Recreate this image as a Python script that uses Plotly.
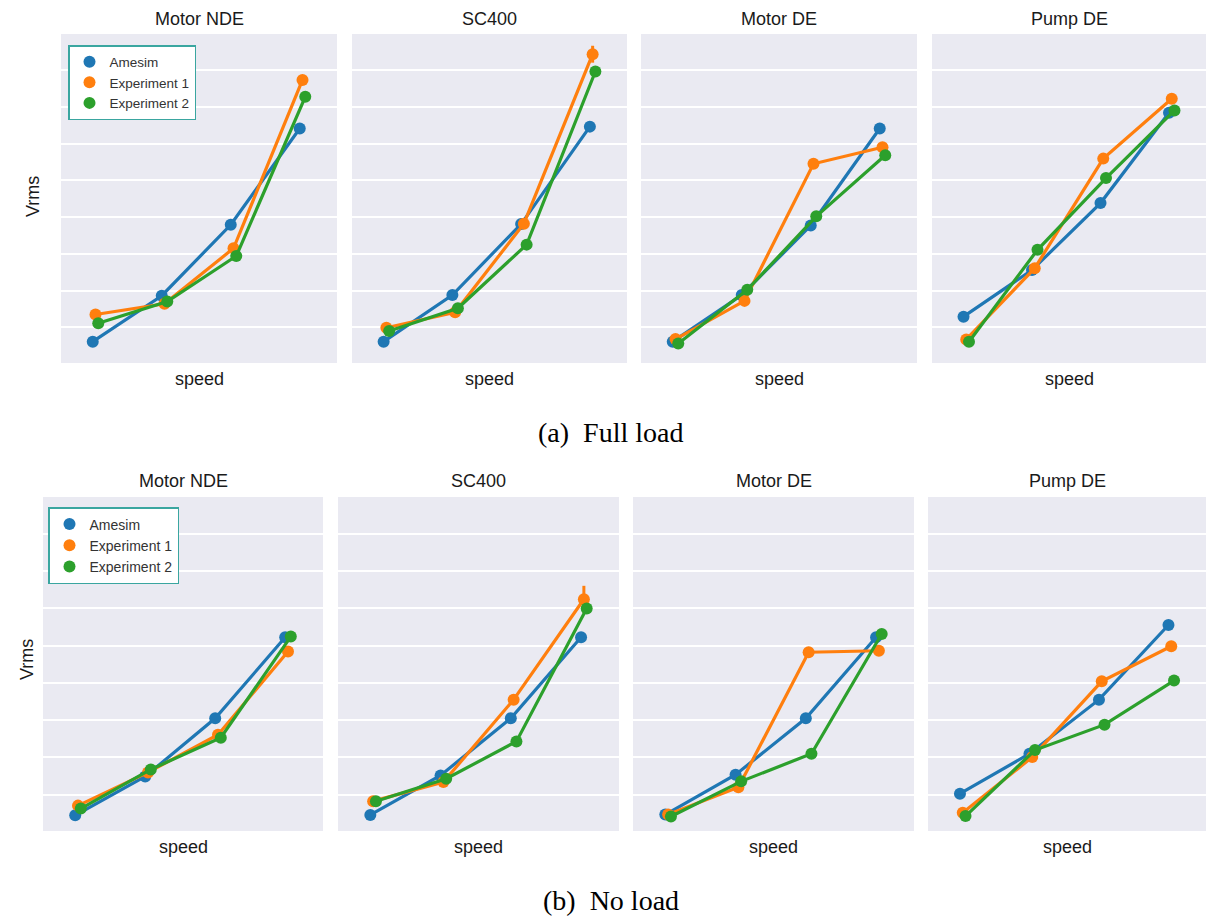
import plotly.graph_objects as go
import numpy as np

# ---------------- data (arbitrary Vrms units) ----------------
speed_idx = [0, 1, 2, 3]
sensors = ["Motor NDE", "SC400", "Motor DE", "Pump DE"]
series = ["Amesim", "Experiment 1", "Experiment 2"]

# (a) Full load
fl_motor_nde_amesim = [0.61, 1.86, 3.79, 6.41]
fl_motor_nde_exp1 = [1.35, 1.64, 3.15, 7.73]
fl_motor_nde_exp2 = [1.11, 1.70, 2.94, 7.27]

fl_sc400_amesim = [0.61, 1.88, 3.81, 6.46]
fl_sc400_exp1 = [0.99, 1.41, 3.82, 8.43]
fl_sc400_exp2 = [0.90, 1.52, 3.25, 7.96]
fl_sc400_exp1_err = [0, 0, 0, 0.23]

fl_motor_de_amesim = [0.61, 1.88, 3.77, 6.41]
fl_motor_de_exp1 = [0.68, 1.72, 5.45, 5.90]
fl_motor_de_exp2 = [0.56, 2.02, 4.02, 5.68]

fl_pump_de_amesim = [1.29, 2.56, 4.38, 6.84]
fl_pump_de_exp1 = [0.67, 2.61, 5.59, 7.22]
fl_pump_de_exp2 = [0.61, 3.11, 5.06, 6.90]

# (b) No load
nl_motor_nde_amesim = [0.45, 1.49, 3.05, 5.22]
nl_motor_nde_exp1 = [0.71, 1.60, 2.61, 4.84]
nl_motor_nde_exp2 = [0.63, 1.68, 2.53, 5.24]

nl_sc400_amesim = [0.46, 1.52, 3.05, 5.22]
nl_sc400_exp1 = [0.83, 1.34, 3.55, 6.24]
nl_sc400_exp2 = [0.83, 1.43, 2.43, 5.99]
nl_sc400_exp1_err = [0, 0, 0, 0.36]

nl_motor_de_amesim = [0.47, 1.54, 3.05, 5.22]
nl_motor_de_exp1 = [0.47, 1.20, 4.82, 4.86]
nl_motor_de_exp2 = [0.42, 1.36, 2.10, 5.31]

nl_pump_de_amesim = [1.03, 2.10, 3.55, 5.55]
nl_pump_de_exp1 = [0.52, 2.01, 4.04, 4.98]
nl_pump_de_exp2 = [0.43, 2.20, 2.88, 4.06]

zero_err = [0, 0, 0, 0]

full_load = [
    [fl_motor_nde_amesim, fl_motor_nde_exp1, fl_motor_nde_exp2],
    [fl_sc400_amesim, fl_sc400_exp1, fl_sc400_exp2],
    [fl_motor_de_amesim, fl_motor_de_exp1, fl_motor_de_exp2],
    [fl_pump_de_amesim, fl_pump_de_exp1, fl_pump_de_exp2],
]
full_err = [
    [zero_err, zero_err, zero_err],
    [zero_err, fl_sc400_exp1_err, zero_err],
    [zero_err, zero_err, zero_err],
    [zero_err, zero_err, zero_err],
]
no_load = [
    [nl_motor_nde_amesim, nl_motor_nde_exp1, nl_motor_nde_exp2],
    [nl_sc400_amesim, nl_sc400_exp1, nl_sc400_exp2],
    [nl_motor_de_amesim, nl_motor_de_exp1, nl_motor_de_exp2],
    [nl_pump_de_amesim, nl_pump_de_exp1, nl_pump_de_exp2],
]
no_err = [
    [zero_err, zero_err, zero_err],
    [zero_err, nl_sc400_exp1_err, zero_err],
    [zero_err, zero_err, zero_err],
    [zero_err, zero_err, zero_err],
]

# ---------------- style ----------------
colors = ["#1f77b4", "#ff7f0e", "#2ca02c"]
dodge = [-0.04, 0.0, 0.04]
W, H = 1208, 918
BG = "#EAEAF2"
SANS = "Liberation Sans, Arial, sans-serif"
SERIF = "Liberation Serif, Times New Roman, serif"

rows = [
    dict(data=full_load, err=full_err,
         xs=[(61, 337), (352, 627), (641, 917), (932, 1206)], ys=(34, 363),
         title_y=19, xlabel_y=379, ylabel=(33, 197), caption="(a)  Full load", cap_y=432,
         legend="legend", leg_pos=(68, 45), leg_font=13.5),
    dict(data=no_load, err=no_err,
         xs=[(43, 323), (338, 619), (633, 914), (928, 1206)], ys=(497, 831),
         title_y=481, xlabel_y=847, ylabel=(27, 660), caption="(b)  No load", cap_y=900,
         legend="legend2", leg_pos=(48, 507), leg_font=14),
]

fig = go.Figure()
layout = dict(width=W, height=H, margin=dict(l=0, r=0, t=0, b=0),
              paper_bgcolor="white", plot_bgcolor=BG, showlegend=True)
annotations = []

def px(x):
    return x / W

def py(y):
    return 1 - y / H

k = 0
for r, row in enumerate(rows):
    for c in range(4):
        k += 1
        xa = "xaxis" if k == 1 else f"xaxis{k}"
        ya = "yaxis" if k == 1 else f"yaxis{k}"
        xref = "x" if k == 1 else f"x{k}"
        yref = "y" if k == 1 else f"y{k}"
        x0, x1 = row["xs"][c]
        y0, y1 = row["ys"]
        layout[xa] = dict(domain=[px(x0), px(x1)], range=[-0.5, 3.5], anchor=yref,
                          showgrid=False, zeroline=False, showticklabels=False,
                          showline=False, ticks="", fixedrange=True)
        layout[ya] = dict(domain=[py(y1), py(y0)], range=[0.03, 8.98], anchor=xref,
                          showgrid=True, gridcolor="white", gridwidth=1.6,
                          tick0=0, dtick=1, zeroline=False, showticklabels=False,
                          showline=False, ticks="", fixedrange=True)
        for s in range(3):
            xvals = np.array(speed_idx) + dodge[s]
            yvals = row["data"][c][s]
            errs = row["err"][c][s]
            fig.add_trace(go.Scatter(
                x=xvals, y=yvals, mode="lines+markers", xaxis=xref, yaxis=yref,
                line=dict(color=colors[s], width=3.2),
                marker=dict(color=colors[s], size=12),
                error_y=dict(type="data", array=errs, visible=True, color=colors[s],
                             thickness=3, width=0),
                showlegend=False, hoverinfo="skip"))
        # titles
        annotations.append(dict(text=sensors[c], x=px((x0 + x1) / 2), y=py(row["title_y"]),
                                xref="paper", yref="paper", showarrow=False,
                                xanchor="center", yanchor="middle",
                                font=dict(family=SANS, size=18, color="#1a1a1a")))
        annotations.append(dict(text="speed", x=px((x0 + x1) / 2), y=py(row["xlabel_y"]),
                                xref="paper", yref="paper", showarrow=False,
                                xanchor="center", yanchor="middle",
                                font=dict(family=SANS, size=18, color="#1a1a1a")))
    # y label
    annotations.append(dict(text="Vrms", x=px(row["ylabel"][0]), y=py(row["ylabel"][1]),
                            xref="paper", yref="paper", showarrow=False, textangle=-90,
                            xanchor="center", yanchor="middle",
                            font=dict(family=SANS, size=18, color="#1a1a1a")))
    # caption
    annotations.append(dict(text=row["caption"], x=px(611), y=py(row["cap_y"]),
                            xref="paper", yref="paper", showarrow=False,
                            xanchor="center", yanchor="middle",
                            font=dict(family=SERIF, size=28, color="black")))
    # legend-only traces
    for s in range(3):
        fig.add_trace(go.Scatter(
            x=[None], y=[None], mode="markers", name=series[s],
            xaxis="x" if r == 0 else "x5", yaxis="y" if r == 0 else "y5",
            marker=dict(color=colors[s], size=12),
            legend=row["legend"], showlegend=True))
    layout[row["legend"]] = dict(
        x=px(row["leg_pos"][0]), y=py(row["leg_pos"][1]), xanchor="left", yanchor="top",
        bgcolor="white", bordercolor="#3aa6a0", borderwidth=1.5,
        font=dict(family=SANS, size=row["leg_font"], color="#333333"),
        itemsizing="trace", tracegroupgap=0)

layout["annotations"] = annotations
fig.update_layout(**layout)
fig.write_html("out.html", config={"displayModeBar": False},
               post_script="document.body.style.margin='0';document.body.style.overflow='hidden';")
